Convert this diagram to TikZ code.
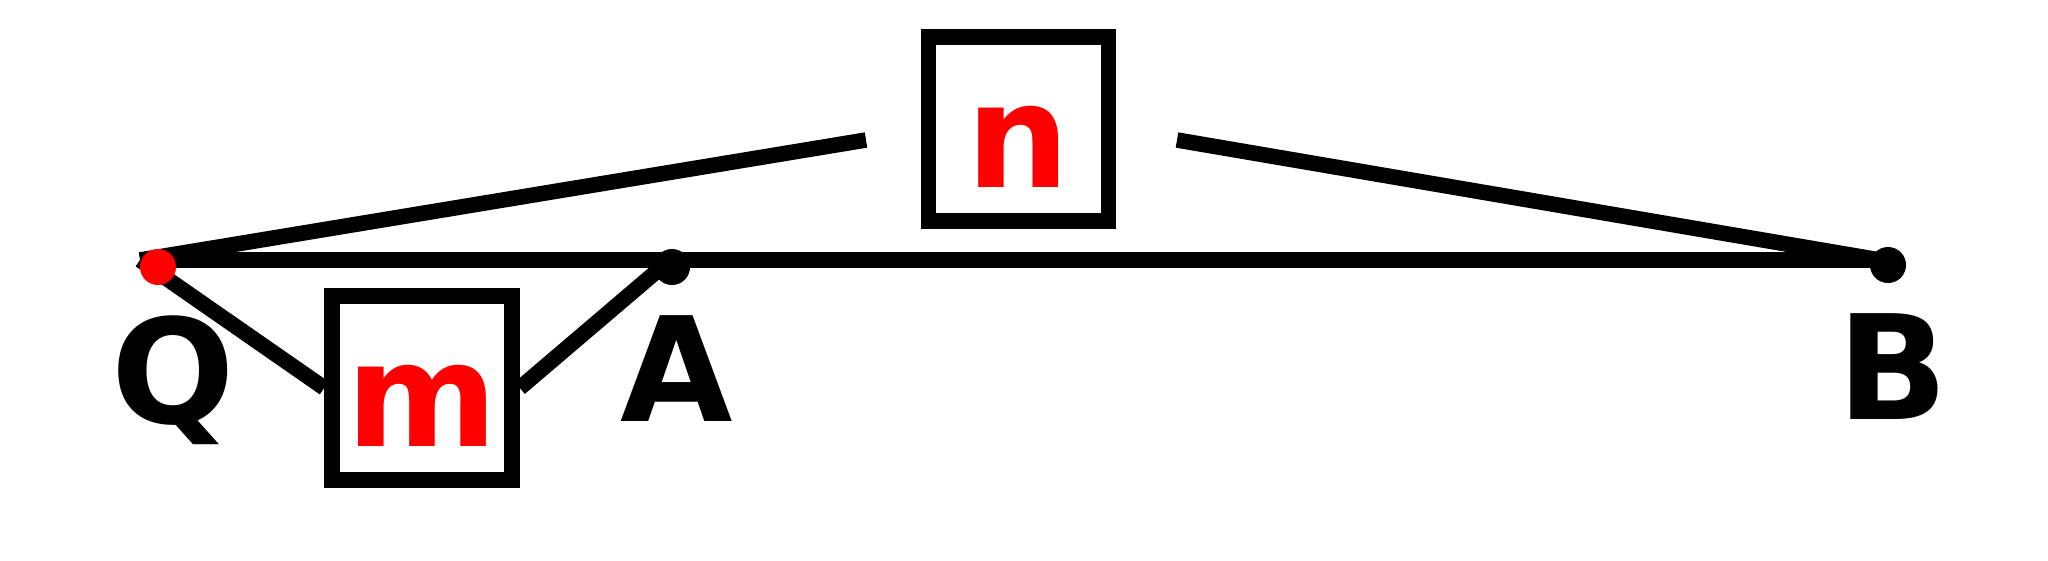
\documentclass[tikz,border=0pt]{standalone}
\usepackage{fontspec}
\setmainfont{DejaVu Sans}
\usepackage{tikz}
\newcommand{\lblfont}{\fontsize{41.3}{50}\selectfont\bfseries}
\tikzstyle{point}=[circle, fill, inner sep=0pt, outer sep=0pt, minimum size=0.36cm]
\tikzstyle{pointred}=[point, fill=red]
\tikzstyle{massbox}=[draw, line width=0.155cm, minimum width=1.8cm, minimum height=1.835cm, inner sep=0pt, text height=1.16cm, text depth=0pt, text=red, font=\lblfont]
\tikzstyle{rod}=[line width=0.155cm]

\begin{document}
\begin{tikzpicture}[x=0.01cm, y=-0.01cm,
    every label/.style={inner sep=0pt, outer sep=0pt, font=\lblfont},
    label distance=0.31cm]
    \useasboundingbox (0,0) rectangle (2048,560);
    \begin{scope}
        \coordinate (Qc) at (140,260);
        \coordinate (Ac) at (670,260);
        \coordinate (Bc) at (1880,260);
        \coordinate (nl) at (866,140);
        \coordinate (nr) at (1177,140);
        \node (m) at (422,388)[massbox] {m};
        \node (n) at (1018.5,129)[massbox] {n};
    \end{scope}
    \begin{scope}
        \path [rod] (Qc) edge (Bc);
        \path [rod] (Qc) edge (nl);
        \path [rod] (nr) edge (Bc);
        \path [rod] (Qc) edge (m.west);
        \path [rod] (m.east) edge (Ac);
    \end{scope}
    \begin{scope}
        \node (Q) at (158,267)[pointred, label={[xshift=0.15cm]-90:Q}] {};
        \node (A) at (672,267)[point, label={[xshift=0.05cm]-90:A}] {};
        \node (B) at (1888,265)[point, label={[xshift=0.05cm]-90:B}] {};
    \end{scope}
\end{tikzpicture}
\end{document}
